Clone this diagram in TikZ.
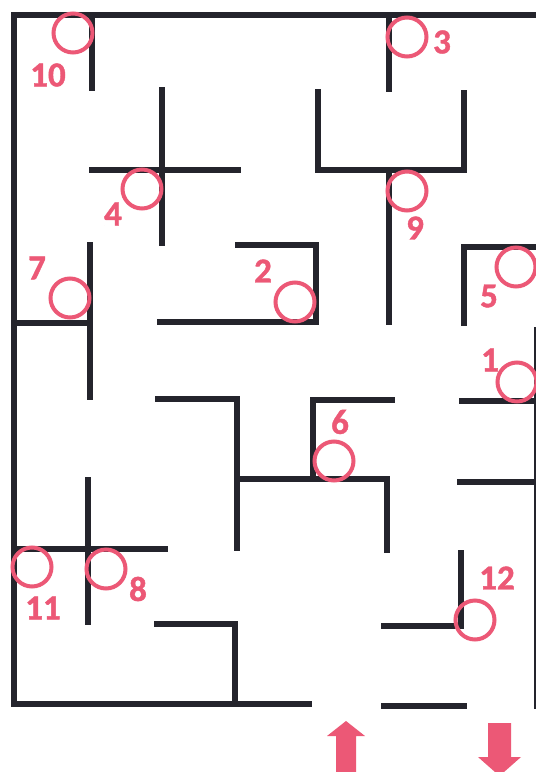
\documentclass[tikz,border=0pt]{standalone}
\usepackage{fontspec}
\setmainfont{Carlito}[BoldFeatures={FakeBold=1.2}]
\definecolor{wallc}{RGB}{36,36,44}
\definecolor{pinkc}{RGB}{236,88,118}
\tikzset{
  wall/.style={draw=wallc, line width=6pt, line cap=rect, line join=miter},
  ring/.style={circle, draw=pinkc, line width=4pt, minimum size=39pt, inner sep=0pt},
  num/.style={text=pinkc, font=\bfseries\fontsize{35}{35}\selectfont, inner sep=0pt},
  bigarrow/.style={fill=pinkc, draw=none}
}
\begin{document}
\begin{tikzpicture}[x=1pt, y=-1pt]
\useasboundingbox (0,0) rectangle (536,772);
\fill[white] (0,0) rectangle (536,772);
% outer walls
\draw[wall] (540,15) -- (14,15) -- (14,704) -- (309,704);
\draw[wall] (384,706) -- (464,706);
\draw[wall] (537,330) -- (537,706);
% inner walls
\draw[wall] (92,15) -- (92,88);
\draw[wall] (389,15) -- (389,89);
\draw[wall] (162,90) -- (162,243);
\draw[wall] (92,170) -- (238,170);
\draw[wall] (318,92) -- (318,170) -- (464,170) -- (464,93);
\draw[wall] (389,170) -- (389,322);
\draw[wall] (90,245) -- (90,397);
\draw[wall] (14,323) -- (90,323);
\draw[wall] (160,322) -- (316,322) -- (316,245) -- (238,245);
\draw[wall] (540,247) -- (464,247) -- (464,323);
\draw[wall] (462,401) -- (540,401);
\draw[wall] (158,399) -- (237,399) -- (237,548);
\draw[wall] (237,479) -- (387,479) -- (387,550);
\draw[wall] (313,479) -- (313,400) -- (392,400);
\draw[wall] (460,482) -- (540,482);
\draw[wall] (88,480) -- (88,622);
\draw[wall] (14,549) -- (165,549);
\draw[wall] (461,553) -- (461,626) -- (384,626);
\draw[wall] (157,624) -- (235,624) -- (235,704);
% rings
\node[ring] (c10) at (73,33) {};
\node[ring] (c3) at (407,37) {};
\node[ring] (c4) at (142,189) {};
\node[ring] (c9) at (407,191) {};
\node[ring] (c7) at (70,298) {};
\node[ring] (c2) at (295,302) {};
\node[ring] (c5) at (516,267) {};
\node[ring] (c1) at (517,382) {};
\node[ring] (c6) at (334,461) {};
\node[ring] (c11) at (32,567) {};
\node[ring] (c8) at (106,569) {};
\node[ring] (c12) at (475,620) {};
% labels
\node[num] (l10) at (48,75) {10};
\node[num] (l3) at (442,42) {3};
\node[num] (l4) at (113,214) {4};
\node[num] (l9) at (415,228) {9};
\node[num] (l7) at (37,268) {7};
\node[num] (l2) at (263,271) {2};
\node[num] (l5) at (489,296) {5};
\node[num] (l1) at (490,360) {1};
\node[num] (l6) at (340,422) {6};
\node[num] (l11) at (43,608) {11};
\node[num] (l8) at (138,589) {8};
\node[num] (l12) at (497,578) {12};
% entry / exit arrows
\fill[bigarrow] (336,775) -- (336,736) -- (327,736) -- (346,721) -- (365,736) -- (356,736) -- (356,775) -- cycle;
\fill[bigarrow] (488,723) -- (511,723) -- (511,757) -- (521,757) -- (499.5,776) -- (478,757) -- (488,757) -- cycle;
\end{tikzpicture}
\end{document}
